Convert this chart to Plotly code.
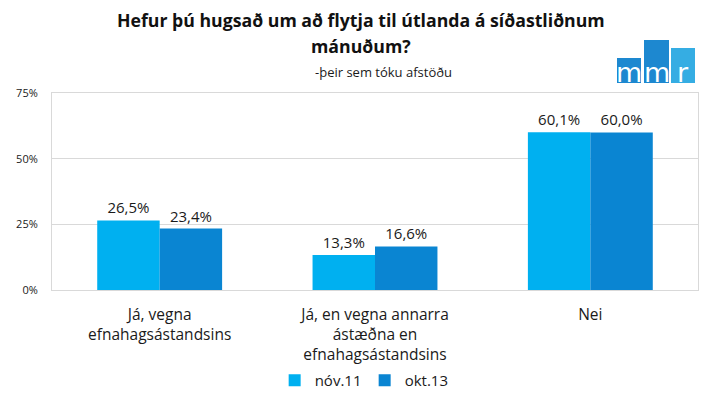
import plotly.graph_objects as go

categories = ["Já, vegna<br>efnahagsástandsins",
              "Já, en vegna annarra<br>ástæðna en<br>efnahagsástandsins",
              "Nei"]
series_names = ["nóv.11", "okt.13"]
nov11 = [26.5, 13.3, 60.1]
okt13 = [23.4, 16.6, 60.0]
tick_vals = [0, 25, 50, 75]
tick_text = ["0%", "25%", "50%", "75%"]

colors = ["#00B0F0", "#0A85D2"]
FONT = "Open Sans"

def fmt(v):
    return f"{v:.1f}%".replace(".", ",")

fig = go.Figure()
for name, vals, col in zip(series_names, [nov11, okt13], colors):
    fig.add_trace(go.Bar(
        x=categories, y=vals, name=name, marker=dict(color=col, line=dict(width=0)),
        text=[fmt(v) for v in vals], textposition="outside",
        textfont=dict(size=15, color="#1a1a1a", family=FONT),
        cliponaxis=False,
    ))

fig.update_layout(
    width=713, height=395,
    margin=dict(l=52, r=15, t=93, b=105, autoexpand=False),
    paper_bgcolor="white", plot_bgcolor="white",
    barmode="group", bargap=0.42, bargroupgap=0,
    font=dict(family=FONT, color="#1a1a1a"),
    showlegend=True,
    legend=dict(orientation="h", x=0.484, xanchor="center", y=-0.46, yanchor="middle",
                font=dict(size=15, color="#1a1a1a"), itemwidth=30, traceorder="normal",
                entrywidth=45, bgcolor="rgba(0,0,0,0)"),
    xaxis=dict(showline=True, linecolor="#D9D9D9", mirror=True, ticks="", automargin=False,
               ticklabelstandoff=10,
               tickfont=dict(size=15.5, color="#1a1a1a")),
    yaxis=dict(range=[0, 75], tickvals=tick_vals, ticktext=tick_text, automargin=False,
               showgrid=True, gridcolor="#D9D9D9", showline=True, linecolor="#D9D9D9",
               mirror=True, ticks="", zeroline=False, ticklabelstandoff=11,
               tickfont=dict(size=11, color="#1a1a1a")),
)

# Titles
fig.add_annotation(xref="paper", yref="paper", x=(361-52)/646, y=1+(93-20)/197,
                   text="<b>Hefur þú hugsað um að flytja til útlanda á síðastliðnum</b>",
                   showarrow=False, font=dict(size=17.7, color="#111111"), yanchor="middle")
fig.add_annotation(xref="paper", yref="paper", x=(361-52)/646, y=1+(93-46)/197,
                   text="<b>mánuðum?</b>",
                   showarrow=False, font=dict(size=17.7, color="#111111"), yanchor="middle")
fig.add_annotation(xref="paper", yref="paper", x=(383-52)/646, y=1+(93-72)/197,
                   text="-þeir sem tóku afstöðu",
                   showarrow=False, font=dict(size=13, color="#1a1a1a"), yanchor="middle")

# Logo (mmr)
logo = [(617, 58, 641, 83, "#1D88D0", "m"), (644, 40, 669, 83, "#1D88D0", "m"),
        (671, 48, 695, 83, "#35ADE3", "r")]
for x0, y0, x1, y1, c, letter in logo:
    fig.add_shape(type="rect", xref="paper", yref="paper",
                  x0=(x0-52)/646, x1=(x1-52)/646, y0=(290-y1)/197, y1=(290-y0)/197,
                  fillcolor=c, line=dict(width=0), layer="above")
    fig.add_annotation(xref="paper", yref="paper", x=((x0+x1)/2-52)/646, y=(290-y1-7)/197,
                       text=letter, showarrow=False, yanchor="bottom", xanchor="center",
                       font=dict(size=27, color="white", family="DejaVu Sans"))

fig.write_html("out.html", config={"displayModeBar": False},
               post_script="document.body.style.margin='0';document.body.style.overflow='hidden';")
